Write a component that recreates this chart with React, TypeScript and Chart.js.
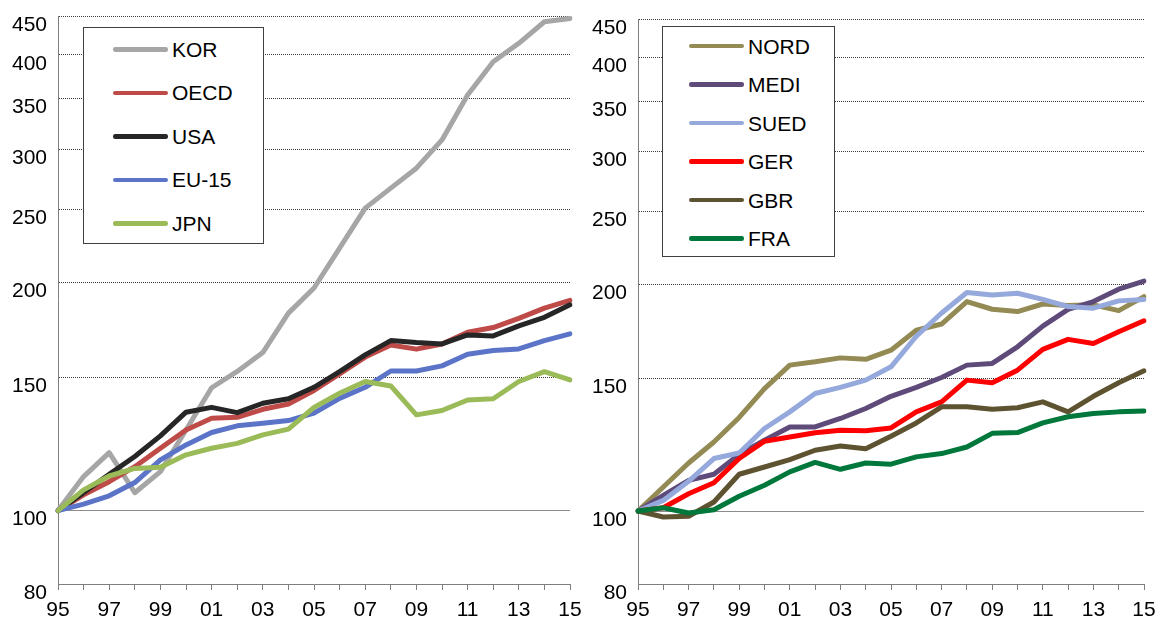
import React, { useEffect, useRef } from "react";
import { Chart, registerables } from "chart.js";

Chart.register(...registerables);

const YEARS = ["95","96","97","98","99","00","01","02","03","04","05","06","07","08","09","10","11","12","13","14","15"];
const Y_TICKS = [80, 100, 150, 200, 250, 300, 350, 400, 450];

// Left panel
const KOR = [100, 110.9, 119.3, 105.6, 112.6, 127.8, 145.3, 152.7, 161.7, 182.3, 196.8, 222.2, 250.9, 266.6, 283.3, 308.7, 354.0, 391.6, 414.1, 442.2, 446.7];
const OECD = [100, 104.9, 109.2, 114.3, 120.9, 127.8, 132.4, 132.8, 136.1, 138.3, 144.1, 151.6, 159.5, 165.5, 163.4, 166.0, 172.0, 174.5, 179.4, 185.1, 189.5];
const USA = [100, 105.6, 111.7, 117.9, 125.5, 134.9, 136.9, 134.7, 138.6, 140.5, 145.5, 152.6, 160.6, 167.7, 166.7, 166.0, 170.6, 170.1, 175.4, 180.0, 187.0];
const EU15 = [100, 102.0, 104.6, 108.9, 116.7, 122.1, 126.8, 129.4, 130.4, 131.5, 134.5, 140.7, 145.5, 152.9, 152.9, 155.3, 160.9, 162.7, 163.5, 167.7, 171.2];
const JPN = [100, 106.5, 111.1, 113.7, 114.1, 118.5, 120.9, 122.7, 125.9, 128.1, 136.9, 142.9, 148.1, 146.1, 133.8, 135.6, 140.0, 140.5, 148.1, 152.6, 148.8];

// Right panel
const NORD = [100, 107.6, 115.8, 123.5, 133.1, 145.4, 156.2, 157.8, 159.7, 159.0, 163.5, 173.8, 177.1, 189.7, 185.3, 184.0, 188.3, 187.5, 187.8, 184.5, 192.6];
const MEDI = [100, 104.9, 109.8, 111.9, 118.9, 124.2, 129.3, 129.3, 132.7, 136.8, 142.0, 145.9, 150.4, 156.2, 157.0, 165.2, 176.0, 185.2, 189.7, 197.0, 202.0];
const SUED = [100, 103.3, 109.5, 117.4, 119.4, 128.7, 135.4, 143.2, 145.9, 149.2, 155.4, 170.6, 183.2, 195.0, 193.6, 194.6, 191.0, 186.8, 185.9, 190.1, 190.9];
const GER = [100, 101.0, 105.4, 109.0, 117.4, 123.8, 125.4, 127.0, 128.0, 127.8, 128.9, 135.4, 139.6, 149.2, 148.0, 153.8, 163.9, 169.0, 166.9, 173.0, 178.9];
const GBR = [100, 98.2, 98.4, 102.8, 111.9, 114.4, 117.0, 120.4, 122.0, 121.0, 125.7, 130.9, 137.5, 137.5, 136.5, 137.1, 139.6, 135.4, 142.0, 148.0, 153.5];
const FRA = [100, 101.0, 99.4, 100.4, 104.6, 108.2, 112.7, 116.0, 113.6, 115.8, 115.4, 118.0, 119.2, 121.6, 126.8, 127.1, 130.9, 133.4, 134.7, 135.4, 135.8];

const LEFT_SERIES = [
  { label: "KOR", data: KOR, color: "#A6A6A6" },
  { label: "OECD", data: OECD, color: "#BE4B48" },
  { label: "USA", data: USA, color: "#262626" },
  { label: "EU-15", data: EU15, color: "#5B74C8" },
  { label: "JPN", data: JPN, color: "#9BBB59" },
];

const RIGHT_SERIES = [
  { label: "NORD", data: NORD, color: "#948A54" },
  { label: "MEDI", data: MEDI, color: "#5F4B7A" },
  { label: "SUED", data: SUED, color: "#95A9DC" },
  { label: "GER", data: GER, color: "#FF0000" },
  { label: "GBR", data: GBR, color: "#5E5330" },
  { label: "FRA", data: FRA, color: "#00783C" },
];

const FONT = '"Liberation Sans", Arial, sans-serif';
const FONT_SIZE = 21;

type Series = { label: string; data: number[]; color: string };

function buildConfig(series: Series[], pad: { top: number; right: number }) {
  return {
    type: "line" as const,
    data: {
      labels: YEARS,
      datasets: series.map((s, i) => ({
        label: s.label,
        data: s.data,
        borderColor: s.color,
        backgroundColor: s.color,
        borderWidth: 5,
        pointRadius: 0,
        tension: 0,
        fill: false,
        borderJoinStyle: "round" as const,
        borderCapStyle: "round" as const,
        order: series.length - i,
      })),
    },
    options: {
      animation: false as const,
      responsive: false,
      maintainAspectRatio: false,
      layout: { padding: { left: 0, right: pad.right, top: pad.top, bottom: 0 } },
      plugins: { legend: { display: false }, tooltip: { enabled: false }, title: { display: false } },
      scales: {
        x: {
          type: "category" as const,
          offset: false,
          afterFit: (scale: any) => {
            scale.height = 37;
            scale.paddingLeft = 0;
            scale.paddingRight = 0;
          },
          grid: {
            drawOnChartArea: false,
            drawTicks: true,
            tickLength: 6,
            tickColor: "#7f7f7f",
            tickWidth: 1,
            color: "#7f7f7f",
          },
          border: { display: true, color: "#7f7f7f", width: 1 },
          ticks: {
            autoSkip: false,
            maxRotation: 0,
            minRotation: 0,
            padding: 8,
            color: "#000",
            font: { family: FONT, size: FONT_SIZE },
            callback: (_v: any, i: number) => (i % 2 === 0 ? YEARS[i] : ""),
          },
        },
        y: {
          type: "logarithmic" as const,
          min: 80,
          max: 450,
          afterFit: (scale: any) => {
            scale.width = 58;
            scale.paddingTop = 0;
            scale.paddingBottom = 0;
          },
          afterBuildTicks: (scale: any) => {
            scale.ticks = Y_TICKS.map((v) => ({ value: v }));
          },
          grid: {
            drawTicks: false,
            lineWidth: 1,
            color: (ctx: any) => {
              const v = ctx.tick ? ctx.tick.value : null;
              if (v === 80) return "rgba(0,0,0,0)";
              if (v === 100) return "#8c8c8c";
              return "#3a3a3a";
            },
          },
          border: {
            display: true,
            color: "#7f7f7f",
            width: 1,
            dash: (ctx: any) => (ctx.tick && ctx.tick.value !== 100 ? [1, 1] : []),
          },
          ticks: {
            padding: 11,
            labelOffset: 9,
            color: "#000",
            font: { family: FONT, size: FONT_SIZE },
            callback: (v: any) => String(v),
          },
        },
      },
    },
  };
}

function ChartCanvas(props: { series: Series[]; left: number; width: number; pad: { top: number; right: number } }) {
  const ref = useRef<HTMLCanvasElement | null>(null);
  useEffect(() => {
    if (!ref.current) return;
    const chart = new Chart(ref.current, buildConfig(props.series, props.pad) as any);
    return () => chart.destroy();
  }, []);
  return (
    <canvas
      ref={ref}
      width={props.width}
      height={621}
      style={{ position: "absolute", left: props.left, top: 0, width: props.width, height: 621, display: "block" }}
    />
  );
}

function Legend(props: {
  series: Series[];
  box: { left: number; top: number; width: number; height: number };
  firstY: number;
  step: number;
  lineX: number;
  lineW: number;
  textX: number;
}) {
  const { box } = props;
  return (
    <div
      style={{
        position: "absolute",
        left: box.left,
        top: box.top,
        width: box.width,
        height: box.height,
        border: "1px solid #404040",
        boxSizing: "border-box",
        background: "#fff",
      }}
    >
      {props.series.map((s, i) => {
        const cy = props.firstY + i * props.step - box.top;
        return (
          <React.Fragment key={s.label}>
            <div
              style={{
                position: "absolute",
                left: props.lineX - box.left,
                top: cy - 2.25,
                width: props.lineW,
                height: 4.5,
                borderRadius: 2.25,
                background: s.color,
              }}
            />
            <div
              style={{
                position: "absolute",
                left: props.textX - box.left,
                top: cy - 12.5,
                lineHeight: "25px",
                height: 25,
                fontFamily: FONT,
                fontSize: FONT_SIZE,
                color: "#000",
                whiteSpace: "nowrap",
              }}
            >
              {s.label}
            </div>
          </React.Fragment>
        );
      })}
    </div>
  );
}

export default function App() {
  return (
    <div style={{ position: "absolute", left: 0, top: 0, width: 1164, height: 621, background: "#fff", overflow: "hidden" }}>
      <ChartCanvas series={LEFT_SERIES} left={0} width={600} pad={{ top: 16, right: 30 }} />
      <ChartCanvas series={RIGHT_SERIES} left={580} width={584} pad={{ top: 19, right: 20 }} />
      <Legend
        series={LEFT_SERIES}
        box={{ left: 83, top: 27, width: 181, height: 217 }}
        firstY={48.3}
        step={43.5}
        lineX={112}
        lineW={55}
        textX={171}
      />
      <Legend
        series={RIGHT_SERIES}
        box={{ left: 662, top: 26, width: 173, height: 231 }}
        firstY={45}
        step={38.5}
        lineX={688}
        lineW={55}
        textX={747}
      />
    </div>
  );
}
